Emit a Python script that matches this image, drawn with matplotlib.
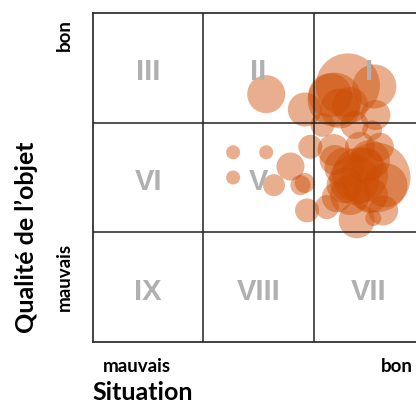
import matplotlib
matplotlib.use("Agg")
import matplotlib.pyplot as plt

# Data (situation, qualité, rayon de la bulle)
situation = [1.57, 1.27, 1.57, 1.27, 1.79, 1.64, 1.88, 1.94,
             2.31, 2.55, 2.19, 2.24, 1.92, 2.56, 2.53, 1.97,
             2.18, 2.42, 2.60, 2.56, 2.37, 2.28, 2.47, 2.21,
             2.12, 2.39, 2.54, 2.63, 1.92, 2.33, 2.51, 2.08,
             2.37, 2.42, 2.65, 2.28, 2.51, 2.19, 2.15, 2.33]
qualite = [2.26, 1.73, 1.73, 1.50, 1.60, 1.43, 1.43, 1.20,
           2.34, 2.33, 2.21, 2.13, 2.12, 2.07, 1.93, 1.78,
           1.75, 1.78, 1.78, 1.50, 1.48, 1.59, 1.61, 1.32,
           1.23, 1.11, 1.13, 1.20, 1.45, 1.34, 1.34, 1.98,
           1.98, 1.52, 1.43, 1.43, 1.66, 1.66, 2.25, 2.16]
taille = [19, 7, 7, 7, 14, 11, 10, 12,
          32, 22, 27, 20, 17, 15, 10, 12,
          16, 15, 14, 35, 25, 20, 18, 15,
          12, 18, 8, 15, 10, 20, 18, 12,
          14, 28, 22, 18, 20, 15, 22, 18]

numerals = [["IX", "VIII", "VII"],
            ["VI", "V", ""],
            ["III", "II", "I"]]

x_labels = ["mauvais", "bon"]
y_labels = ["mauvais", "bon"]
x_title = "Situation"
y_title = "Qualité de l’objet"

W, H = 416, 420
fig = plt.figure(figsize=(W / 100, H / 100), dpi=100)

left_px, right_px, top_px, bottom_px = 93, 424, 13, 342
ax = fig.add_axes([left_px / W, 1 - bottom_px / H,
                   (right_px - left_px) / W, (bottom_px - top_px) / H])
ax.set_xlim(0, 3)
ax.set_ylim(0, 3)

s = [(2 * r * 0.72) ** 2 for r in taille]
ax.scatter(situation, qualite, s=s, color="#CC4C02", alpha=0.45,
           linewidths=0, zorder=2)

for v in [1, 2]:
    ax.axvline(v, color="#222222", lw=1.1, zorder=4)
    ax.axhline(v, color="#222222", lw=1.1, zorder=4)
for sp in ax.spines.values():
    sp.set_color("#333333")
    sp.set_linewidth(1.3)

for row in range(3):
    for col in range(3):
        lab = numerals[row][col]
        if not lab:
            continue
        ax.text(col + 0.5, row + 0.46, lab, ha="center", va="center",
                fontsize=21, color="#B0B0B0", fontweight="bold",
                family="Liberation Sans", zorder=3)

ax.set_xticks([])
ax.set_yticks([])

fam = ["Lato", "DejaVu Sans"]
def px(x, y):
    return x / W, 1 - y / H

fig.text(*px(137, 366), x_labels[0], ha="center", va="center",
         fontsize=13.5, fontweight="bold", family=fam)
fig.text(*px(397, 366), x_labels[1], ha="center", va="center",
         fontsize=13.5, fontweight="bold", family=fam)
fig.text(*px(64, 277), y_labels[0], ha="center", va="center", rotation=90,
         fontsize=13.5, fontweight="bold", family=fam)
fig.text(*px(64, 35), y_labels[1], ha="center", va="center", rotation=90,
         fontsize=13.5, fontweight="bold", family=fam)
fig.text(*px(143, 392), x_title, ha="center", va="center",
         fontsize=18, fontweight="bold", family=fam)
fig.text(*px(26, 237), y_title, ha="center", va="center", rotation=90,
         fontsize=18, fontweight="bold", family=fam)

fig.savefig("out.png", dpi=100)
